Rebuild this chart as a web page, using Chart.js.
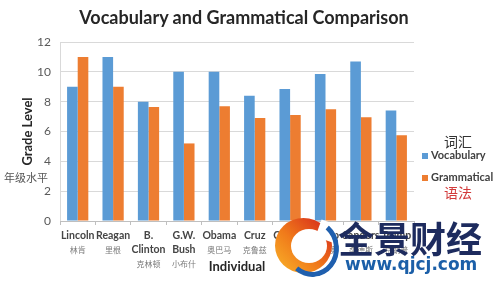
<!DOCTYPE html>
<html><head><meta charset="utf-8">
<script src="https://cdn.jsdelivr.net/npm/chart.js@4/dist/chart.umd.min.js"></script>
<style>
html,body{margin:0;padding:0;background:#fff;}
#wrap{position:relative;width:500px;height:281px;overflow:hidden;font-family:Lato,"Open Sans",sans-serif;}
canvas{position:absolute;left:0;top:0;}
.ov{position:absolute;white-space:nowrap;}
.sw{display:inline-block;width:6px;height:6px;margin-right:3px;vertical-align:middle;}
</style></head>
<body><div id="wrap"><canvas id="c" width="500" height="281"></canvas>
<div class="ov" style="left:0;width:488px;top:6px;text-align:center;font-size:18px;font-weight:bold;color:#262626;font-family:Lato;">Vocabulary and Grammatical Comparison</div>
<div class="ov" style="left:4px;top:169px;font-size:11px;color:#555;font-family:'Noto Sans CJK SC';">年级水平</div>
<div class="ov" style="left:444px;top:131px;font-size:14px;color:#333;font-family:'Noto Sans CJK SC';">词汇</div>
<div class="ov" style="left:422px;top:148px;font-size:11px;font-weight:bold;color:#404040;"><span class="sw" style="background:#5B9BD5"></span>Vocabulary</div>
<div class="ov" style="left:422px;top:170px;font-size:11px;font-weight:bold;color:#404040;"><span class="sw" style="background:#ED7D31"></span>Grammatical</div>
<div class="ov" style="left:444px;top:182px;font-size:14px;color:#d23a3a;font-family:'Noto Sans CJK SC';">语法</div>
<div class="ov" style="left:275px;top:218px;width:57px;height:55px;border-radius:50%;background:linear-gradient(45deg,#f9b52a 0%,#f07a1a 45%,#d8301c 90%);"></div>
<div class="ov" style="left:291px;top:229px;width:36px;height:34px;border-radius:50%;background:#fff;"></div>
<div class="ov" style="left:318px;top:222px;width:18px;height:18px;background:#fff;transform:rotate(20deg);"></div>
<div class="ov" style="left:285px;top:219px;width:44px;height:48px;border-radius:50%;border:5px solid transparent;border-right-color:#1f5fae;border-bottom-color:#1f5fae;transform:rotate(-5deg);"></div>
<div class="ov" style="left:338px;top:217px;font-size:36px;font-weight:bold;color:#1d2b5e;font-family:'Noto Sans CJK SC';line-height:40px;">全景财经</div>
<div class="ov" style="left:345px;top:255px;font-size:17px;font-weight:bold;color:#1b5fa8;font-family:'DejaVu Sans';line-height:18px;">www.qjcj.com</div>
</div>
<script>
const namesEn = [['Lincoln'], ['Reagan'], ['B.','Clinton'], ['G.W.','Bush'], ['Obama'], ['Cruz'], ['Clinton'], ['Rubio'], ['Sanders'], ['Trump']];
const namesZh = ['林肯', '里根', '克林顿', '小布什', '奥巴马', '克鲁兹', '希拉里', '卢比奥', '桑德斯', '特朗普'];
const vocabulary = [9.0, 11.0, 8.0, 10.0, 10.0, 8.4, 8.85, 9.85, 10.7, 7.4];
const grammatical = [11.0, 9.0, 7.65, 5.2, 7.7, 6.9, 7.1, 7.5, 6.95, 5.75];
const yTicks = [0, 2, 4, 6, 8, 10, 12];

// Chinese names sit on the line below the English name(s)
const zhLabels = namesZh.map((z, i) => namesEn[i].map(() => '').concat([z]));

new Chart(document.getElementById('c'), {
  type: 'bar',
  data: {
    labels: namesEn,
    datasets: [
      {label: 'Vocabulary', data: vocabulary, backgroundColor: '#5B9BD5', categoryPercentage: 0.6, barPercentage: 1.0},
      {label: 'Grammatical', data: grammatical, backgroundColor: '#ED7D31', categoryPercentage: 0.6, barPercentage: 1.0}
    ]
  },
  options: {
    responsive: false,
    animation: false,
    devicePixelRatio: 1,
    layout: {padding: {left: 5, right: 86, top: 42, bottom: 0}},
    plugins: {
      legend: {display: false},
      tooltip: {enabled: false},
      title: {display: false}
    },
    scales: {
      y: {
        min: 0, max: 12,
        afterBuildTicks: (s) => { s.ticks = yTicks.map(v => ({value: v})); },
        afterFit: (s) => { s.width = 55; },
        ticks: {font: {family: 'Lato', size: 12}, color: '#595959', padding: 9},
        grid: {color: '#d9d9d9', drawTicks: false},
        border: {color: '#d9d9d9'},
        title: {display: true, text: 'Grade Level', font: {family: 'Lato', size: 13, weight: 'bold'}, color: '#262626', padding: {top: 15, bottom: 0}}
      },
      x: {
        afterFit: (s) => { s.height = 60; },
        ticks: {font: {family: 'Lato', size: 10.5, weight: 'bold', lineHeight: '14px'}, color: '#454545', padding: 4, maxRotation: 0, autoSkip: false},
        grid: {drawOnChartArea: false, color: '#bfbfbf', tickLength: 4},
        border: {color: '#bfbfbf'},
        title: {display: true, text: 'Individual', font: {family: 'Lato', size: 13, weight: 'bold'}, color: '#262626', padding: {top: 0, bottom: 6}}
      },
      x2: {
        type: 'category',
        axis: 'x',
        labels: zhLabels,
        position: {y: 0},
        offset: true,
        grid: {display: false, drawTicks: false},
        border: {display: false},
        ticks: {font: {family: 'Noto Sans CJK SC', size: 8, lineHeight: '14px'}, color: '#7a7a7a', padding: 8, maxRotation: 0, autoSkip: false}
      }
    }
  }
});
</script>
</body></html>
